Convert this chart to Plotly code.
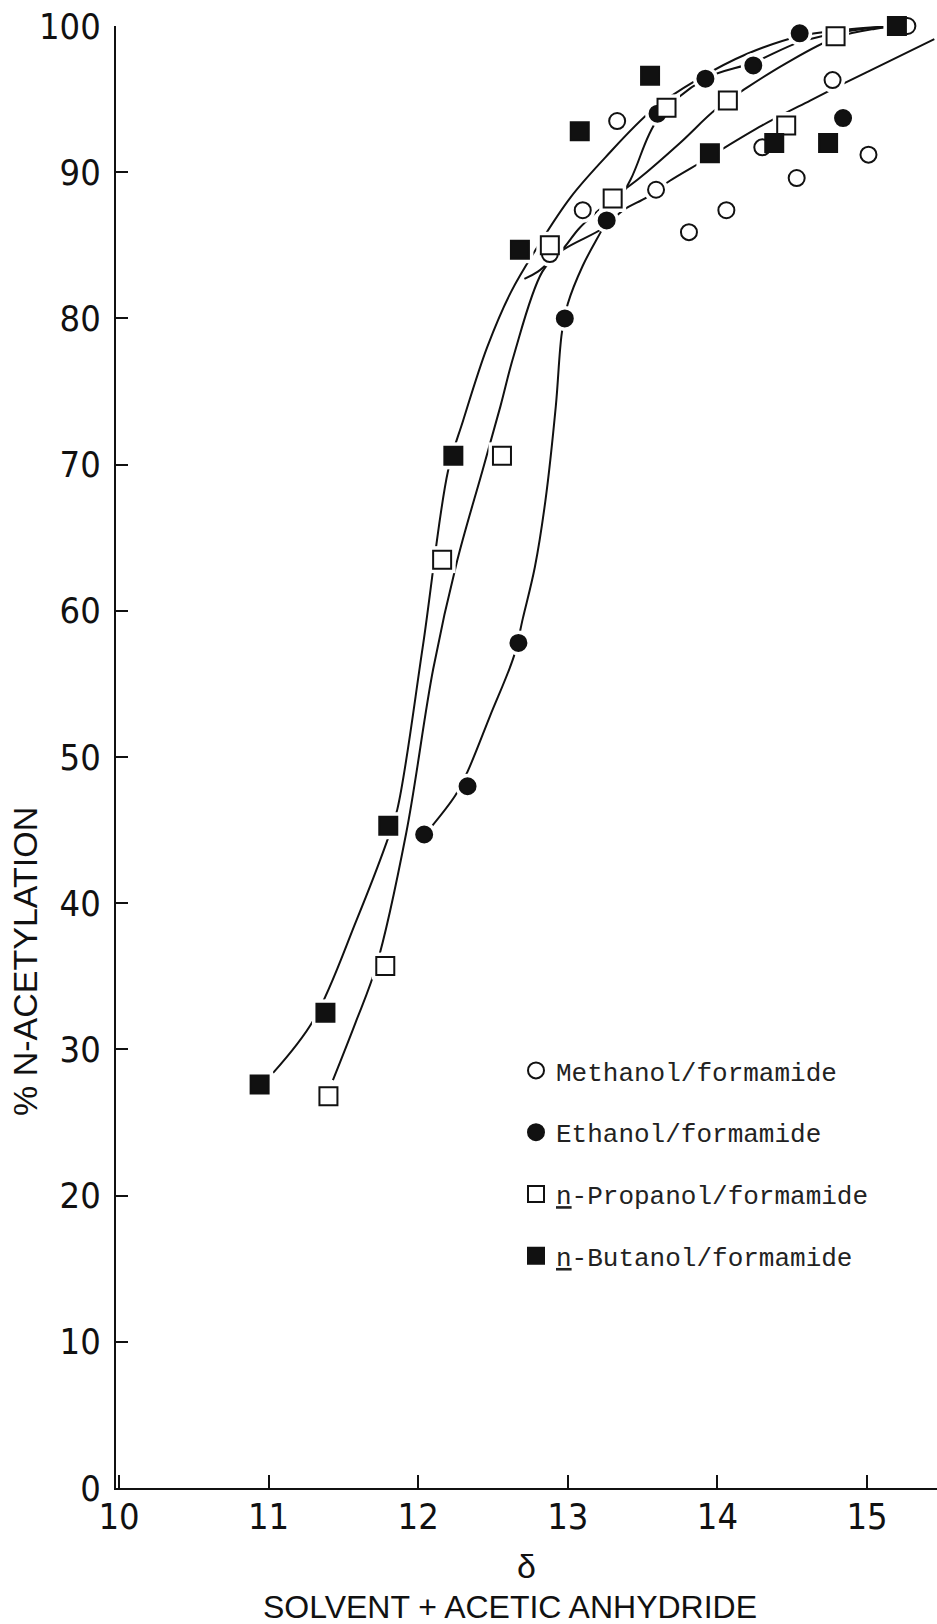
import plotly.graph_objects as go

# ---- data ----
METH_X = [12.88, 13.10, 13.33, 13.59, 13.81, 14.06, 14.30, 14.53, 14.77, 15.01, 15.27]
METH_Y = [84.4, 87.4, 93.5, 88.8, 85.9, 87.4, 91.7, 89.6, 96.3, 91.2, 100.0]

ETH_X = [12.04, 12.33, 12.67, 12.98, 13.26, 13.60, 13.92, 14.24, 14.55, 14.84]
ETH_Y = [44.7, 48.0, 57.8, 80.0, 86.7, 94.0, 96.4, 97.3, 99.5, 93.7]

PROP_X = [11.40, 11.78, 12.16, 12.56, 12.88, 13.30, 13.66, 14.07, 14.46, 14.79]
PROP_Y = [26.8, 35.7, 63.5, 70.6, 85.0, 88.2, 94.4, 94.9, 93.2, 99.3]

BUT_X = [10.94, 11.38, 11.80, 12.235, 12.68, 13.08, 13.55, 13.95, 14.38, 14.74, 15.20]
BUT_Y = [27.6, 32.5, 45.3, 70.6, 84.7, 92.8, 96.6, 91.3, 92.0, 92.0, 100.0]

# hand-drawn curves
CURVE_BUT_X = [11.03, 11.30, 11.59, 11.79, 11.86, 12.03, 12.20, 12.30, 12.46,
               12.62, 12.81, 13.02, 13.25, 13.57, 13.86, 14.20, 14.55, 14.90, 15.20]
CURVE_BUT_Y = [28.4, 32.0, 38.9, 44.2, 46.4, 57.5, 69.6, 73.0, 78.0,
               81.8, 85.1, 88.3, 91.0, 94.3, 96.3, 98.1, 99.3, 99.8, 100.0]

CURVE_PROP_X = [11.43, 11.58, 11.72, 11.92, 12.10, 12.26, 12.43, 12.55, 12.64, 12.83,
                12.98, 13.08, 13.30, 13.48, 13.75, 13.99, 14.20, 14.45, 14.79, 15.05, 15.25]
CURVE_PROP_Y = [27.9, 31.8, 35.7, 44.8, 56.0, 63.4, 69.6, 74.0, 77.5, 83.2,
                84.9, 86.2, 88.2, 89.6, 92.0, 94.3, 95.8, 97.4, 99.2, 99.8, 100.0]

CURVE_ETH_X = [12.07, 12.25, 12.33, 12.48, 12.64, 12.70, 12.78, 12.85, 12.92, 12.96, 13.00,
               13.10, 13.22, 13.42, 13.60, 13.92, 14.24, 14.55, 14.90, 15.20]
CURVE_ETH_Y = [45.0, 47.4, 49.0, 52.8, 56.9, 59.5, 63.0, 67.5, 74.0, 79.0, 81.0,
               83.6, 85.9, 89.5, 93.6, 96.4, 97.5, 98.9, 99.7, 100.0]

CURVE_METH_X = [12.71, 12.80, 12.97, 13.24, 13.37, 13.53, 13.68, 13.91, 14.02, 14.30,
                14.62, 14.89, 15.15, 15.45]
CURVE_METH_Y = [82.7, 83.2, 84.7, 86.2, 87.4, 88.3, 89.4, 90.8, 91.5, 93.2,
                94.9, 96.3, 97.6, 99.1]

X_TICKS = [10, 11, 12, 13, 14, 15]
Y_TICKS = [0, 10, 20, 30, 40, 50, 60, 70, 80, 90, 100]

NAMES = ["Methanol/formamide", "Ethanol/formamide",
         "<u>n</u>-Propanol/formamide", "<u>n</u>-Butanol/formamide"]

INK = "#111111"
AXFONT = "Liberation Sans Narrow, DejaVu Sans Condensed, Liberation Sans, sans-serif"
TITLEFONT = "Liberation Sans, DejaVu Sans, sans-serif"

fig = go.Figure()

# curves
for cx, cy in [(CURVE_BUT_X, CURVE_BUT_Y), (CURVE_PROP_X, CURVE_PROP_Y),
               (CURVE_ETH_X, CURVE_ETH_Y), (CURVE_METH_X, CURVE_METH_Y)]:
    fig.add_trace(go.Scatter(x=cx, y=cy, mode="lines",
                             line=dict(color=INK, width=2, shape="spline", smoothing=1.0),
                             showlegend=False, hoverinfo="skip", cliponaxis=False))

series = [
    (METH_X, METH_Y, "circle", "white", 16),
    (ETH_X, ETH_Y, "circle", INK, 16),
    (PROP_X, PROP_Y, "square", "white", 18),
    (BUT_X, BUT_Y, "square", INK, 18),
]

# white halos to break the curves around the symbols
for sx, sy, sym, fill, sz in series:
    fig.add_trace(go.Scatter(x=sx, y=sy, mode="markers",
                             marker=dict(symbol=sym, size=sz + 9, color="white",
                                         line=dict(width=0)),
                             showlegend=False, hoverinfo="skip", cliponaxis=False))

for i, (sx, sy, sym, fill, sz) in enumerate(series):
    fig.add_trace(go.Scatter(x=sx, y=sy, mode="markers", name=NAMES[i],
                             legendgroup=f"g{i}",
                             marker=dict(symbol=sym, size=sz, color=fill,
                                         line=dict(color=INK, width=2)),
                             cliponaxis=False))

W, H = 937, 1624
L, R, T, B = 116, 0, 26, 136
PW = W - L - R
PH = H - T - B


def px(xp):
    return (xp - L) / PW


def py(yp):
    return (H - B - yp) / PH


fig.update_layout(
    width=W, height=H,
    margin=dict(l=L, r=R, t=T, b=B, pad=0),
    paper_bgcolor="white", plot_bgcolor="white",
    showlegend=True,
    legend=dict(x=px(516), y=py(1047), xanchor="left", yanchor="top",
                font=dict(family="Liberation Mono, Courier New, monospace", size=26, color="#222222"),
                bgcolor="rgba(0,0,0,0)", borderwidth=0,
                traceorder="grouped", tracegroupgap=25, itemsizing="trace"),
    xaxis=dict(range=[9.98, 15.468], tickvals=X_TICKS, ticktext=[str(v) for v in X_TICKS],
               showgrid=False, zeroline=False, showline=True, linecolor=INK, linewidth=2,
               ticks="inside", ticklen=13, tickwidth=2, tickcolor=INK,
               ticklabelstandoff=-4,
               tickfont=dict(family=AXFONT, size=36, color=INK)),
    yaxis=dict(range=[0, 100], tickvals=Y_TICKS, ticktext=[str(v) for v in Y_TICKS],
               showgrid=False, zeroline=False, showline=True, linecolor=INK, linewidth=2,
               ticks="inside", ticklen=12, tickwidth=2, tickcolor=INK,
               ticklabelstandoff=6,
               tickfont=dict(family=AXFONT, size=36, color=INK)),
    annotations=[
        dict(text="% N-ACETYLATION", x=px(25), y=py(962), xref="paper", yref="paper",
             textangle=-90, showarrow=False, xanchor="center", yanchor="middle",
             font=dict(family=TITLEFONT, size=34, color=INK)),
        dict(text="δ", x=px(526), y=py(1566), xref="paper", yref="paper",
             showarrow=False, xanchor="center", yanchor="middle",
             font=dict(family=TITLEFONT, size=34, color=INK)),
        dict(text="SOLVENT + ACETIC ANHYDRIDE", x=px(510), y=py(1607), xref="paper", yref="paper",
             showarrow=False, xanchor="center", yanchor="middle",
             font=dict(family=TITLEFONT, size=32, color=INK)),
    ],
)

fig.write_html("out.html")
